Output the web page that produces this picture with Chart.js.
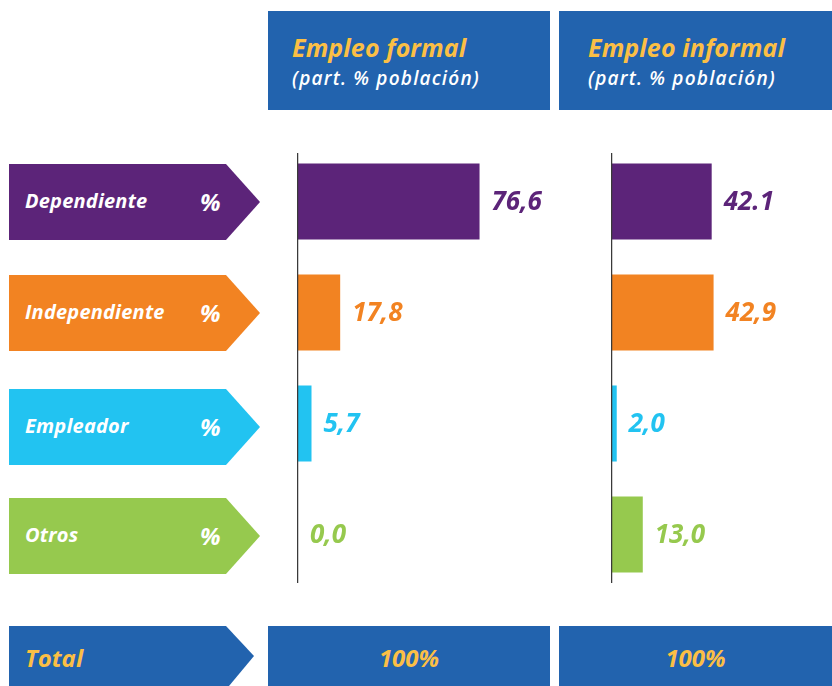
<!DOCTYPE html>
<html>
<head>
<meta charset="utf-8">
<script src="https://cdn.jsdelivr.net/npm/chart.js@4.4.1/dist/chart.umd.min.js"></script>
<style>
  body { margin: 0; width: 832px; height: 686px; position: relative; overflow: hidden; background: #fff;
         font-family: "Open Sans", sans-serif; font-style: italic; font-weight: 700; }
  .box { position: absolute; background: #2263ae; }
  .head { left: 0; top: 11px; height: 99px; }
  .head .t { position: absolute; left: 24px; top: 21px; color: #fbbf45; font-size: 25px; line-height: 30px; letter-spacing: 0.1px; }
  .head .s { position: absolute; left: 24px; top: 55px; color: #fff; font-size: 19px; font-weight: 600; line-height: 24px; letter-spacing: 1.2px; }
  .head.r .t, .head.r .s { left: 29px; }
  .arrow { position: absolute; left: 9px; width: 251px; height: 76px;
           clip-path: polygon(0 0, 217px 0, 100% 50%, 217px 100%, 0 100%); color: #fff; }
  .arrow .n { position: absolute; left: 16px; top: 0; line-height: 74px; font-size: 20px; letter-spacing: 0.2px; }
  .arrow .p { position: absolute; left: 191px; top: 0; line-height: 76px; font-size: 24px; }
  .wrap { position: absolute; top: 146px; height: 444px; }
  .total { top: 626px; height: 60px; color: #fbbf45; font-size: 24px; line-height: 64px; text-align: center; }
</style>
</head>
<body>
<div class="box head" style="left:268px;width:282px"><div class="t" id="h1"></div><div class="s" id="s1"></div></div>
<div class="box head r" style="left:559px;width:273px"><div class="t" id="h2"></div><div class="s" id="s2"></div></div>
<div id="arrows"></div>
<div class="wrap" style="left:297px;width:252px"><canvas id="formalChart"></canvas></div>
<div class="wrap" style="left:611px;width:221px"><canvas id="informalChart"></canvas></div>
<div class="box total" style="left:9px;width:245px;text-align:left;clip-path:polygon(0 0,217px 0,100% 50%,220px 100%,0 100%)"><span style="padding-left:16px">Total</span></div>
<div class="box total" style="left:268px;width:282px" id="t1"></div>
<div class="box total" style="left:559px;width:273px" id="t2"></div>
<script>
const categories = ["Dependiente", "Independiente", "Empleador", "Otros"]
const formalValues = [76.6, 17.8, 5.7, 0.0]
const informalValues = [42.1, 42.9, 2.0, 13.0]
const formalLabels = ["76,6", "17,8", "5,7", "0,0"]
const informalLabels = ["42.1", "42,9", "2,0", "13,0"]
const barColors = ["#5c2479", "#f28322", "#22c3f1", "#96c94e"]
const headers = ["Empleo formal", "Empleo informal"]
const subtitle = "(part. % población)"
const totals = ["100%", "100%"]
const arrowTops = [164, 275, 389, 498]

document.getElementById("h1").textContent = headers[0]
document.getElementById("h2").textContent = headers[1]
document.getElementById("s1").textContent = subtitle
document.getElementById("s2").textContent = subtitle
document.getElementById("t1").textContent = totals[0]
document.getElementById("t2").textContent = totals[1]

const arrows = document.getElementById("arrows")
categories.forEach((name, i) => {
  const a = document.createElement("div")
  a.className = "arrow"
  a.style.top = arrowTops[i] + "px"
  a.style.background = barColors[i]
  a.innerHTML = `<span class="n">${name}</span><span class="p">%</span>`
  arrows.appendChild(a)
})

// axis line + value labels next to each bar
const valueLabels = {
  id: "valueLabels",
  afterDatasetsDraw(chart, args, opts) {
    const { ctx, chartArea } = chart
    ctx.save()
    ctx.strokeStyle = "#3a3a3a"
    ctx.lineWidth = 1.5
    ctx.beginPath()
    ctx.moveTo(chartArea.left - 0.5, chartArea.top + 7)
    ctx.lineTo(chartArea.left - 0.5, chartArea.bottom - 7)
    ctx.stroke()
    ctx.font = "italic 700 26px 'Open Sans'"
    ctx.textBaseline = "middle"
    chart.getDatasetMeta(0).data.forEach((bar, i) => {
      ctx.fillStyle = barColors[i]
      ctx.fillText(opts.labels[i], bar.x + 12, bar.y + 1)
    })
    ctx.restore()
  }
}

function makeChart(id, values, labels, max) {
  return new Chart(document.getElementById(id), {
    type: "bar",
    data: {
      labels: categories,
      datasets: [{ data: values, backgroundColor: barColors, barPercentage: 0.685, categoryPercentage: 1 }]
    },
    options: {
      indexAxis: "y",
      responsive: true,
      maintainAspectRatio: false,
      animation: false,
      devicePixelRatio: 1,
      layout: { padding: { left: 1, right: 14, top: 0, bottom: 0 } },
      plugins: { legend: { display: false }, tooltip: { enabled: false }, valueLabels: { labels } },
      scales: {
        x: { min: 0, max, display: false },
        y: { display: false }
      }
    },
    plugins: [valueLabels]
  })
}

makeChart("formalChart", formalValues, formalLabels, 100)
makeChart("informalChart", informalValues, informalLabels, 87)
</script>
</body>
</html>
